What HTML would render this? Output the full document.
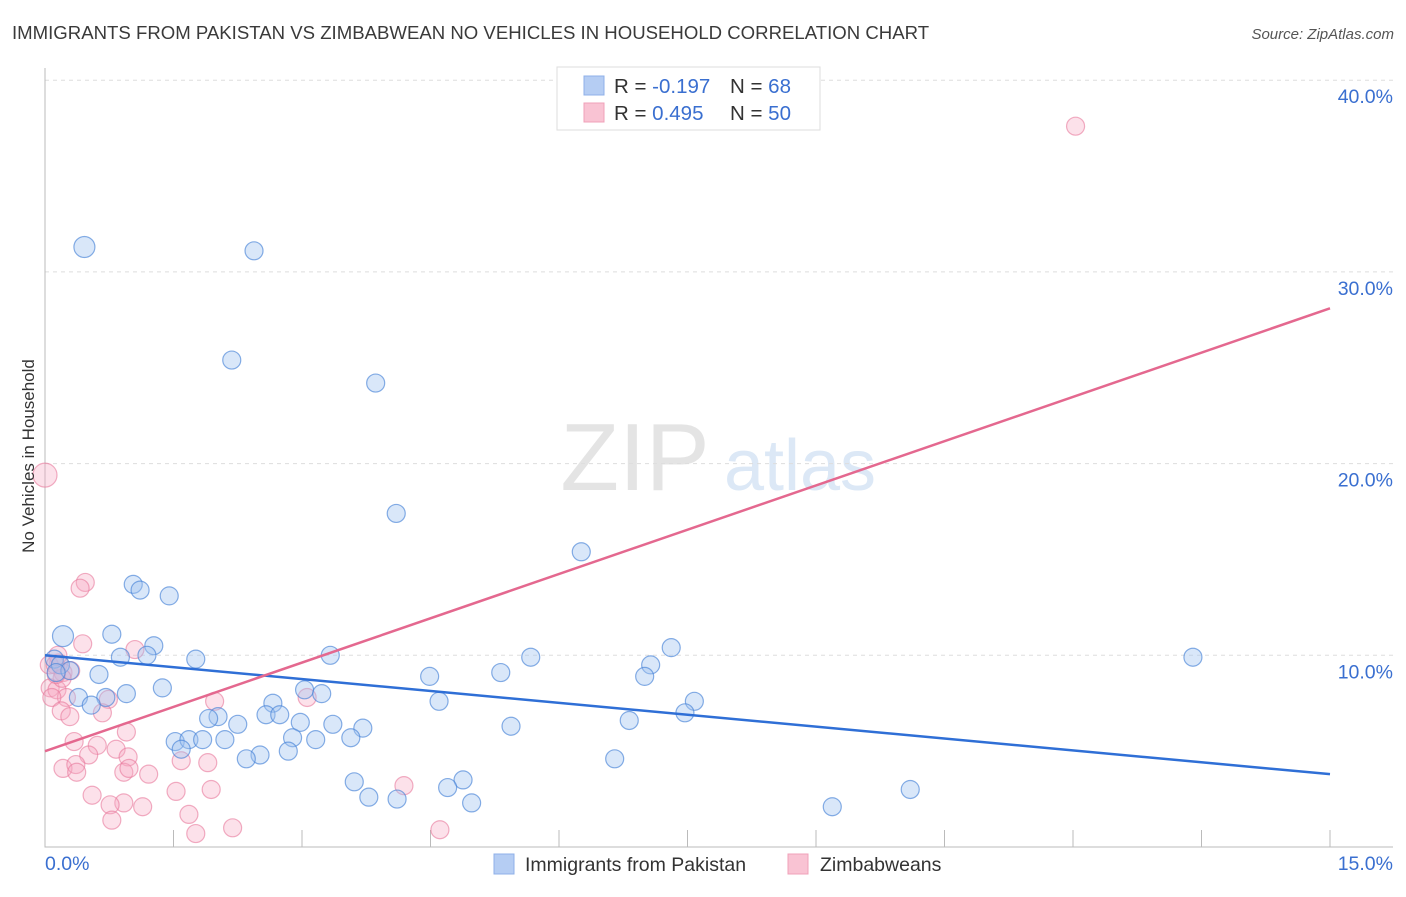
<!DOCTYPE html>
<html><head><meta charset="utf-8"><style>
body{margin:0;background:#fff;font-family:"Liberation Sans",sans-serif;}
svg text{font-family:"Liberation Sans",sans-serif;}
</style></head><body>
<svg id="chart" width="1406" height="892" xmlns="http://www.w3.org/2000/svg">
<text x="12" y="39" font-size="18.6" fill="#3a3a3a">IMMIGRANTS FROM PAKISTAN VS ZIMBABWEAN NO VEHICLES IN HOUSEHOLD CORRELATION CHART</text>
<text x="1394" y="39" font-size="15" fill="#555" font-style="italic" text-anchor="end">Source: ZipAtlas.com</text>
<g>
<text x="635" y="490" font-size="96" fill="#e4e4e4" font-family="Liberation Serif,serif" text-anchor="middle">ZIP</text>
<text x="800" y="490" font-size="72" fill="#dce8f6" text-anchor="middle">atlas</text>
</g>
<g id="grid"></g>
<g id="axes"></g>
<g id="pts"></g>
<g id="lines"></g>
<text transform="translate(34,456) rotate(-90)" font-size="17" fill="#333" text-anchor="middle">No Vehicles in Household</text>
<g>
<rect x="557" y="67" width="263" height="63" fill="#fff" stroke="#ddd"/>
<rect x="584" y="76" width="20" height="19" fill="#b5cdf3" stroke="#8fb0e8"/>
<rect x="584" y="103" width="20" height="19" fill="#f9c3d3" stroke="#f0a0b8"/>
<text x="614" y="93" font-size="20.5" fill="#333">R = <tspan fill="#3a6fd0">-0.197</tspan></text>
<text x="730" y="93" font-size="20.5" fill="#333">N = <tspan fill="#3a6fd0"> 68</tspan></text>
<text x="614" y="120" font-size="20.5" fill="#333">R = <tspan fill="#3a6fd0"> 0.495</tspan></text>
<text x="730" y="120" font-size="20.5" fill="#333">N = <tspan fill="#3a6fd0">50</tspan></text>
</g>
<g>
<rect x="494" y="854" width="20" height="20" fill="#b5cdf3" stroke="#8fb0e8"/>
<text x="525" y="871" font-size="19.5" fill="#333">Immigrants from Pakistan</text>
<rect x="788" y="854" width="20" height="20" fill="#f9c3d3" stroke="#f0a0b8"/>
<text x="820" y="871" font-size="19.5" fill="#333">Zimbabweans</text>
</g>
</svg>
<script>
const xTicks=[0,1.5,3,4.5,6,7.5,9,10.5,12,13.5,15];
const yTicks=[10,20,30,40];
const yTickLabels=["10.0%","20.0%","30.0%","40.0%"];
const xTickLabels=["0.0%","15.0%"];
const blueX=[0.46,2.44,2.18,3.86,4.10,6.26,1.03,1.11,1.45,0.21,0.78,1.27,0.88,1.19,1.76,0.11,0.18,0.29,0.13,0.63,1.37,0.95,0.39,0.71,0.54,3.03,3.23,2.66,3.33,4.49,5.32,5.67,7.07,7.00,7.31,7.58,7.47,4.60,2.58,2.74,2.02,1.91,2.25,2.98,3.36,3.71,1.52,1.68,1.84,2.10,1.59,2.89,3.16,3.57,2.84,2.51,2.35,5.44,6.82,6.65,3.61,4.88,3.78,4.11,4.70,4.98,9.19,10.10,13.40];
const blueY=[31.3,31.1,25.4,24.2,17.4,15.4,13.7,13.4,13.1,11.0,11.1,10.5,9.9,10.0,9.8,9.8,9.5,9.2,9.1,9.0,8.3,8.0,7.8,7.8,7.4,8.2,8.0,7.5,10.0,8.9,9.1,9.9,9.5,8.9,10.4,7.6,7.0,7.6,6.9,6.9,6.8,6.7,6.4,6.5,6.4,6.2,5.5,5.6,5.6,5.6,5.1,5.7,5.6,5.7,5.0,4.8,4.6,6.3,6.6,4.6,3.4,3.5,2.6,2.5,3.1,2.3,2.1,3.0,9.9];
const pinkX=[12.03,0,0.47,0.41,0.44,1.05,0.16,0.05,0.21,0.30,0.06,0.14,0.25,0.08,0.74,1.98,3.06,0.19,0.29,0.67,0.34,0.61,0.95,0.51,0.83,0.97,0.21,0.36,0.37,0.92,1.21,0.98,1.59,1.90,0.55,0.92,1.53,1.94,0.76,1.14,0.78,1.68,1.76,2.19,4.19,4.61,0.15,0.12,0.20,0.13];
const pinkY=[37.6,19.4,13.8,13.5,10.6,10.3,9.6,9.5,9.1,9.2,8.3,8.2,7.8,7.8,7.7,7.6,7.8,7.1,6.8,7.0,5.5,5.3,6.0,4.8,5.1,4.7,4.1,4.3,3.9,3.9,3.8,4.1,4.5,4.4,2.7,2.3,2.9,3.0,2.2,2.1,1.4,1.7,0.7,1.0,3.2,0.9,10.0,9.5,8.8,9.0];
const blueLine=[10.0,3.8];
const pinkLine=[5.0,28.1];
const X0=45,X1=1330,Y0=847,PXY=19.17;
const sx=v=>X0+(X1-X0)*v/15;
const sy=v=>Y0-v*PXY;
const NS="http://www.w3.org/2000/svg";
function mk(tag,attrs,parent){const e=document.createElementNS(NS,tag);for(const k in attrs)e.setAttribute(k,attrs[k]);parent.appendChild(e);return e;}
const grid=document.getElementById('grid'),axes=document.getElementById('axes'),pts=document.getElementById('pts'),lines=document.getElementById('lines');
yTicks.forEach((t,i)=>{
 const l=mk('line',{x1:X0,x2:1393,y1:sy(t),y2:sy(t),stroke:'#ddd','stroke-dasharray':'4,4'},grid);
 
 
 const tx=mk('text',{x:1393,y:sy(t)+23,'font-size':19.5,fill:'#3a6fd0','text-anchor':'end'},axes);
 tx.textContent=yTickLabels[i];
 
 
});
const ax=mk('path',{d:`M${X0},68V${Y0}H1393`,stroke:'#bbb',fill:'none'},axes);


xTicks.forEach(t=>{
 const l=mk('line',{x1:sx(t),x2:sx(t),y1:Y0-17,y2:Y0,stroke:'#bbb'},axes);
 
 
});
[[0,'start',45],[15,'end',1393]].forEach((d,i)=>{
 const tx=mk('text',{x:d[2],y:870,'font-size':19.5,fill:'#3a6fd0','text-anchor':d[1]},axes);
 tx.textContent=xTickLabels[i];
 
 
});
pinkX.forEach((v,i)=>{
 const c=mk('circle',{cx:sx(v),cy:sy(pinkY[i]),r:i==1?12:9,fill:'rgba(246,170,195,0.35)',stroke:'rgba(232,120,155,0.6)','stroke-width':1.2},pts);
 
 
});
blueX.forEach((v,i)=>{
 const c=mk('circle',{cx:sx(v),cy:sy(blueY[i]),r:(i==0||i==9)?10.5:9,fill:'rgba(160,195,240,0.4)',stroke:'rgba(70,130,215,0.65)','stroke-width':1.2},pts);
 
 
});
const bl=mk('line',{x1:sx(0),y1:sy(blueLine[0]),x2:sx(15),y2:sy(blueLine[1]),stroke:'#2f6fd6','stroke-width':2.5},lines);


const pl=mk('line',{x1:sx(0),y1:sy(pinkLine[0]),x2:sx(15),y2:sy(pinkLine[1]),stroke:'#e4688f','stroke-width':2.5},lines);


</script>
</body></html>
